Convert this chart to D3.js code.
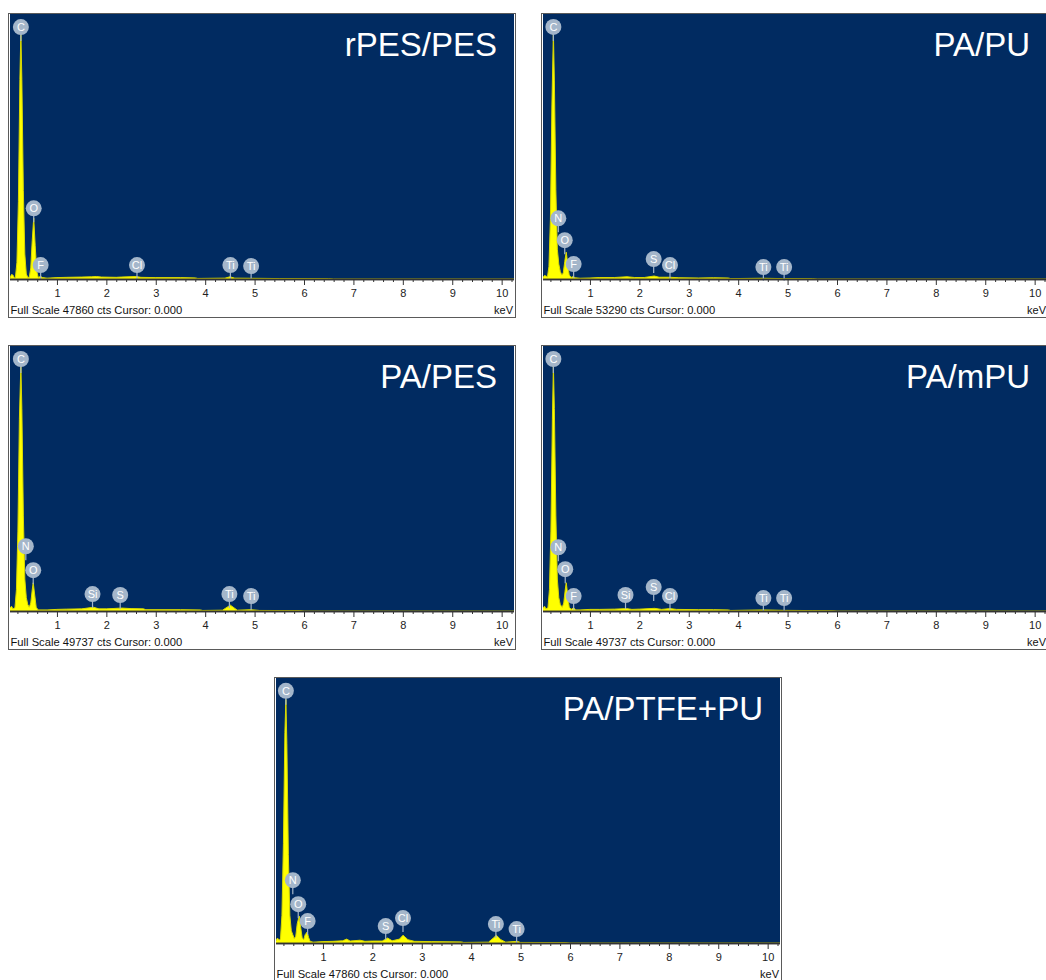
<!DOCTYPE html>
<html>
<head>
<meta charset="utf-8">
<script src="https://cdn.jsdelivr.net/npm/d3@7"></script>
<style>
  html, body { margin: 0; padding: 0; background: #ffffff; }
  svg { display: block; }
  text { font-family: "Liberation Sans", Arial, sans-serif; }
</style>
</head>
<body>
<div id="chart"></div>
<script>
// ---------- DATA ----------
const panelTitles = ["rPES/PES", "PA/PU", "PA/PES", "PA/mPU", "PA/PTFE+PU"];
const fullScales = [47860, 53290, 49737, 49737, 47860];
const tickLabels = [1, 2, 3, 4, 5, 6, 7, 8, 9, 10];

// spectra: [keV, counts]
const spectrumRPES_PES = [
  [0.05, 200], [0.08, 800], [0.11, 700], [0.14, 200], [0.16, 300], [0.19, 3000], [0.22, 14000],
  [0.25, 36000], [0.27, 44600], [0.29, 36000], [0.32, 16000], [0.35, 4500], [0.38, 900],
  [0.41, 300], [0.44, 300], [0.47, 2000], [0.50, 7000], [0.53, 11000], [0.56, 6000],
  [0.59, 1500], [0.62, 300], [0.67, 450], [0.71, 250], [0.80, 150], [1.0, 250], [1.2, 300],
  [1.5, 350], [1.7, 400], [1.8, 450], [1.9, 350], [2.2, 300], [2.3, 350], [2.6, 450],
  [2.7, 300], [3.0, 250], [3.5, 250], [3.8, 200], [3.85, 100], [4.4, 150], [4.5, 400],
  [4.6, 150], [4.9, 130], [5.5, 80], [6.5, 50], [6.6, 0], [10.3, 0]
];
const spectrumPA_PU = [
  [0.05, 300], [0.08, 700], [0.11, 600], [0.14, 400], [0.17, 2500], [0.20, 12000],
  [0.23, 35000], [0.26, 49500], [0.28, 40000], [0.31, 18000], [0.34, 6000], [0.37, 3000],
  [0.40, 1500], [0.43, 800], [0.46, 1200], [0.49, 3500], [0.52, 5400], [0.55, 3000],
  [0.58, 800], [0.62, 300], [0.66, 500], [0.70, 250], [0.8, 150], [1.0, 200], [1.2, 300],
  [1.5, 300], [1.75, 450], [1.9, 300], [2.1, 300], [2.3, 600], [2.4, 350], [2.62, 350],
  [2.8, 250], [3.2, 200], [3.5, 250], [3.8, 200], [3.85, 80], [4.5, 150], [4.9, 80],
  [5.5, 60], [5.6, 0], [10.3, 0]
];
const spectrumPA_PES = [
  [0.05, 500], [0.08, 900], [0.11, 400], [0.15, 600], [0.18, 4000], [0.21, 15000],
  [0.24, 36000], [0.27, 46200], [0.29, 38000], [0.32, 18000], [0.35, 6000], [0.38, 2500],
  [0.41, 1200], [0.44, 700], [0.47, 1500], [0.50, 4000], [0.52, 5300], [0.55, 3000],
  [0.58, 700], [0.62, 200], [0.8, 200], [1.0, 300], [1.2, 350], [1.5, 400], [1.74, 700],
  [1.85, 400], [2.0, 400], [2.31, 550], [2.5, 450], [2.75, 400], [2.8, 250], [3.5, 250],
  [3.9, 200], [3.95, 100], [4.35, 150], [4.51, 1100], [4.65, 150], [4.93, 250], [5.1, 100],
  [5.9, 80], [6.0, 0], [10.3, 0]
];
const spectrumPA_mPU = [
  [0.05, 500], [0.08, 900], [0.11, 400], [0.15, 600], [0.18, 4000], [0.21, 15000],
  [0.24, 36000], [0.26, 46000], [0.28, 38000], [0.31, 18000], [0.34, 6000], [0.37, 2500],
  [0.40, 1200], [0.44, 700], [0.47, 1500], [0.50, 4000], [0.52, 5300], [0.55, 3000],
  [0.58, 700], [0.62, 300], [0.67, 600], [0.71, 200], [0.8, 200], [1.0, 300], [1.2, 300],
  [1.5, 350], [1.74, 450], [1.85, 300], [2.0, 350], [2.31, 500], [2.45, 300], [2.62, 450],
  [2.75, 300], [3.2, 250], [3.5, 250], [3.8, 200], [3.85, 100], [4.51, 200], [4.93, 120],
  [5.5, 80], [5.9, 60], [6.0, 0], [10.3, 0]
];
const spectrumPA_PTFE_PU = [
  [0.05, 400], [0.08, 900], [0.11, 500], [0.14, 700], [0.17, 5000], [0.20, 18000],
  [0.23, 38000], [0.25, 44000], [0.27, 36000], [0.30, 16000], [0.33, 5000], [0.36, 2200],
  [0.39, 1500], [0.42, 800], [0.45, 1200], [0.48, 3500], [0.52, 4860], [0.55, 2800],
  [0.58, 900], [0.61, 600], [0.64, 1500], [0.68, 1980], [0.71, 1000], [0.74, 300],
  [0.8, 150], [1.0, 250], [1.2, 300], [1.4, 400], [1.48, 700], [1.55, 350], [1.75, 500],
  [1.85, 300], [2.0, 350], [2.2, 350], [2.31, 900], [2.4, 400], [2.55, 700], [2.62, 1400],
  [2.72, 600], [2.85, 300], [3.2, 250], [3.8, 200], [3.85, 100], [4.35, 150], [4.45, 900],
  [4.51, 1400], [4.6, 600], [4.7, 150], [4.93, 300], [5.0, 100], [5.9, 80], [6.0, 0], [10.3, 0]
];
const spectra = [spectrumRPES_PES, spectrumPA_PU, spectrumPA_PES, spectrumPA_mPU, spectrumPA_PTFE_PU];

// element tags: [element, keV, counts at tag]
const tagsRPES_PES = [["C", 0.27, 45500], ["O", 0.53, 12770], ["F", 0.67, 2520], ["Cl", 2.62, 2520], ["Ti", 4.51, 2520], ["Ti", 4.93, 2340]];
const tagsPA_PU = [["C", 0.26, 50700], ["N", 0.36, 12200], ["O", 0.49, 7800], ["F", 0.67, 3000], ["S", 2.29, 4000], ["Cl", 2.62, 2800], ["Ti", 4.51, 2400], ["Ti", 4.93, 2400]];
const tagsPA_PES = [["C", 0.27, 47300], ["N", 0.37, 12150], ["O", 0.52, 7670], ["Si", 1.72, 3180], ["S", 2.28, 3000], ["Ti", 4.49, 3180], ["Ti", 4.93, 2800]];
const tagsPA_mPU = [["C", 0.26, 47300], ["N", 0.36, 11970], ["O", 0.50, 7850], ["F", 0.67, 2800], ["Si", 1.72, 3000], ["S", 2.29, 4490], ["Cl", 2.62, 2800], ["Ti", 4.51, 2430], ["Ti", 4.93, 2430]];
const tagsPA_PTFE_PU = [["C", 0.25, 45540], ["N", 0.39, 11340], ["O", 0.50, 7020], ["F", 0.69, 3960], ["S", 2.27, 3060], ["Cl", 2.62, 4500], ["Ti", 4.50, 3420], ["Ti", 4.92, 2520]];
const tags = [tagsRPES_PES, tagsPA_PU, tagsPA_PES, tagsPA_mPU, tagsPA_PTFE_PU];

// ---------- LAYOUT ----------
const W = 1046, H = 980;
const panelOrigins = [[10, 14], [543, 14], [10, 346], [543, 346], [276, 678]];
const plotW = 504, plotH = 265, stripH = 39;
const keVDomain = [0.05, 10.25];

const BLUE = "#012b61";
const YELLOW = "#ffff00";
const TAG = "#a4b6ca";

const svg = d3.select("#chart").append("svg").attr("width", W).attr("height", H);
const defs = svg.append("defs");

panelTitles.forEach((title, i) => {
  const [L, T] = panelOrigins[i];
  const x = d3.scaleLinear().domain(keVDomain).range([0, plotW]);
  const y = d3.scaleLinear().domain([0, fullScales[i]]).range([plotH, 0]);
  const g = svg.append("g").attr("transform", `translate(${L},${T})`);

  // outer frame + strip
  g.append("rect").attr("x", -1.5).attr("y", -0.5).attr("width", plotW + 3).attr("height", plotH + stripH)
    .attr("fill", "#ffffff").attr("stroke", "#5a5a5a").attr("stroke-width", 1);
  g.append("rect").attr("x", 0).attr("y", 0).attr("width", plotW).attr("height", plotH).attr("fill", BLUE);

  defs.append("clipPath").attr("id", "clip" + i)
    .append("rect").attr("x", 0).attr("y", -20).attr("width", plotW).attr("height", plotH + 20);

  const area = d3.area().x(d => x(d[0])).y0(plotH).y1(d => y(d[1]));
  const line = d3.line().x(d => x(d[0])).y(d => y(d[1]));
  const gp = g.append("g").attr("clip-path", `url(#clip${i})`);
  gp.append("path").datum(spectra[i]).attr("d", area).attr("fill", YELLOW);
  gp.append("path").datum(spectra[i]).attr("d", line).attr("fill", "none")
    .attr("stroke", "#d8d800").attr("stroke-width", 1);

  // title
  g.append("text").attr("x", plotW - 17).attr("y", 42).attr("text-anchor", "end")
    .attr("fill", "#ffffff").attr("font-size", 33).text(title);

  // element tags
  const tg = g.append("g");
  tags[i].forEach(t => {
    const cx = x(t[1]), cy = y(t[2]);
    tg.append("line").attr("x1", cx).attr("x2", cx).attr("y1", cy + 6).attr("y2", cy + 14)
      .attr("stroke", TAG).attr("stroke-width", 1.2);
    tg.append("circle").attr("cx", cx).attr("cy", cy).attr("r", 8).attr("fill", TAG);
    tg.append("text").attr("x", cx).attr("y", cy + 4).attr("text-anchor", "middle")
      .attr("fill", "#ffffff").attr("font-size", 11).text(t[0]);
  });

  // axis
  const minorTicks = d3.range(0.2, 10.21, 0.2).filter(v => Math.abs(v - Math.round(v)) > 0.01);
  const ax = g.append("g").attr("transform", `translate(0,${plotH})`);
  ax.call(d3.axisBottom(x).tickValues(minorTicks).tickSize(3).tickFormat(""));
  const axMaj = g.append("g").attr("transform", `translate(0,${plotH})`);
  axMaj.call(d3.axisBottom(x).tickValues(tickLabels).tickSize(6).tickPadding(4).tickFormat(d3.format("d")));
  [ax, axMaj].forEach(a => {
    a.select(".domain").attr("d", `M0,0.5H${plotW}`).attr("stroke", "#333").attr("stroke-width", 1.5);
    a.selectAll(".tick line").attr("stroke", "#333");
    a.selectAll(".tick text").attr("fill", "#222").attr("font-size", 11)
      .attr("font-family", "'Liberation Sans', Arial, sans-serif");
  });

  g.append("text").attr("x", 0.5).attr("y", plotH + 35).attr("font-size", 11.2).attr("fill", "#111")
    .text(`Full Scale ${fullScales[i]} cts Cursor: 0.000`);
  g.append("text").attr("x", plotW - 1).attr("y", plotH + 35).attr("text-anchor", "end")
    .attr("font-size", 11).attr("fill", "#111").text("keV");
});
</script>
</body>
</html>
